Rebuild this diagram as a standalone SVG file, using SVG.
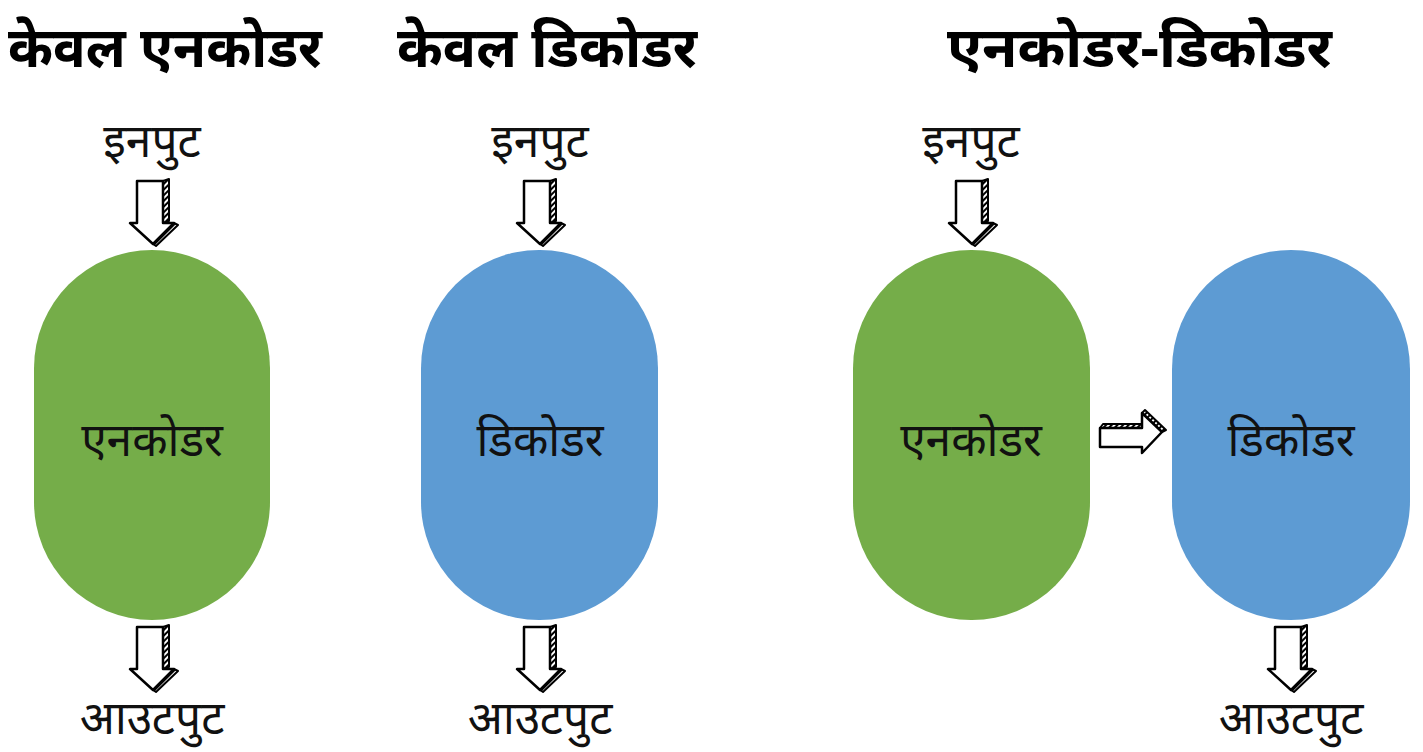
<svg xmlns="http://www.w3.org/2000/svg" width="1423" height="752" viewBox="0 0 1423 752">
<defs>
<style>
.title{font-family:"Noto Sans","DejaVu Sans",sans-serif;font-weight:bold;font-size:56px;fill:#000;}
.lbl{font-family:"Noto Sans","DejaVu Sans",sans-serif;font-size:46px;fill:#111;text-anchor:middle;}
.enc{fill:#75AD49;}
.dec{fill:#5D9BD3;}
.ar{fill:#fff;stroke:#000;stroke-width:2.5;stroke-linejoin:round;}
.hatch{fill:url(#hp);stroke:#000;stroke-width:2;stroke-linejoin:round;}
</style>
<pattern id="hp" width="4" height="4" patternUnits="userSpaceOnUse" patternTransform="rotate(45)">
<rect width="4" height="4" fill="#fff"/>
<rect width="2" height="4" fill="#000"/>
</pattern>
<g id="down">
<path class="hatch" d="M26,0 L32,-2 L32,40 L26,42 Z"/>
<path class="hatch" d="M37,42 L41,44 L19,65 L16,63 Z"/>
<path class="ar" d="M0,0 L26,0 L26,42 L37,42 L16,63 L-7,42 L0,42 Z"/>
</g>
<g id="right">
<path class="hatch" d="M0,4 L3,0 L42,0 L42,4 Z"/>
<path class="hatch" d="M42,-11 L45,-14 L66,6 L62,8 Z"/>
<path class="ar" d="M0,4 L42,4 L42,-11 L62,8 L42,29 L42,23 L0,23 Z"/>
</g>
</defs>
<rect width="1423" height="752" fill="#fff"/>
<g id="titles">
<text class="title" x="8" y="67" textLength="314" lengthAdjust="spacingAndGlyphs">केवल एनकोडर</text>
<text class="title" x="397" y="67" textLength="300" lengthAdjust="spacingAndGlyphs">केवल डिकोडर</text>
<text class="title" x="947" y="67" textLength="385" lengthAdjust="spacingAndGlyphs">एनकोडर-डिकोडर</text>
</g>
<g id="enc1">
<rect class="enc" x="34" y="250" width="236" height="370" rx="118" ry="118"/>
<text class="lbl" x="152" y="456">एनकोडर</text>
</g>
<g id="dec1">
<rect class="dec" x="421" y="250" width="237" height="370" rx="118" ry="118"/>
<text class="lbl" x="540" y="456">डिकोडर</text>
</g>
<g id="enc2">
<rect class="enc" x="853" y="250" width="237" height="370" rx="118" ry="118"/>
<text class="lbl" x="971" y="456">एनकोडर</text>
</g>
<g id="dec2">
<rect class="dec" x="1172" y="250" width="238" height="370" rx="119" ry="119"/>
<text class="lbl" x="1291" y="456">डिकोडर</text>
</g>
<g id="io">
<text class="lbl" x="152" y="157">इनपुट</text>
<text class="lbl" x="540" y="157">इनपुट</text>
<text class="lbl" x="971" y="157">इनपुट</text>
<text class="lbl" x="152" y="734">आउटपुट</text>
<text class="lbl" x="540" y="734">आउटपुट</text>
<text class="lbl" x="1291" y="734">आउटपुट</text>
</g>
<g id="connectors">
<use href="#down" x="137" y="181"/>
<use href="#down" x="524" y="181"/>
<use href="#down" x="956" y="181"/>
<use href="#down" x="137" y="627"/>
<use href="#down" x="524" y="627"/>
<use href="#down" x="1275" y="627"/>
<use href="#right" x="1100" y="424"/>
</g>
</svg>
